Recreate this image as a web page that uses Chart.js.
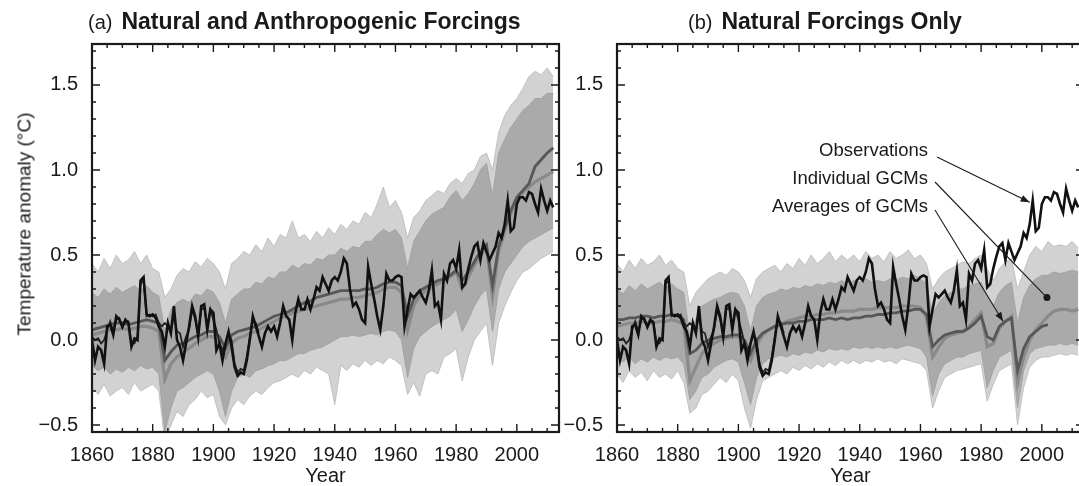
<!DOCTYPE html>
<html>
<head>
<meta charset="utf-8">
<script src="https://cdn.jsdelivr.net/npm/chart.js@4.4.0/dist/chart.umd.min.js"></script>
<style>
  html, body { margin: 0; padding: 0; background: #fff; width: 1079px; height: 486px; overflow: hidden; position: relative; }
  canvas { position: absolute; top: 0; }
  #leftChart { left: 0; }
  #rightChart { left: 525px; }
  .txt { position: absolute; font-family: "Liberation Sans", Arial, sans-serif; color: #1a1a1a; white-space: nowrap; }
  .title { top: 10px; font-size: 20px; line-height: 22px; }
  .title b { font-size: 23px; margin-left: 9px; }
  .note { font-size: 18.5px; line-height: 18px; right: 151px; }
  .ytitle { left: 24px; top: 224px; font-size: 19px; line-height: 19px; transform: translate(-50%, -50%) rotate(-90deg); }
</style>
</head>
<body>
<canvas id="leftChart" width="600" height="486"></canvas>
<canvas id="rightChart" width="580" height="486"></canvas>

<div class="txt title" style="left:88px">(a)<b>Natural and Anthropogenic Forcings</b></div>
<div class="txt title" style="left:688px">(b)<b>Natural Forcings Only</b></div>
<div class="txt ytitle">Temperature anomaly (°C)</div>
<div class="txt note" style="top:141px">Observations</div>
<div class="txt note" style="top:169px">Individual GCMs</div>
<div class="txt note" style="top:197px">Averages of GCMs</div>

<script>
// ---- axis ticks ----
const xTicks = [1860, 1880, 1900, 1920, 1940, 1960, 1980, 2000];
const yTicks = [-0.5, 0, 0.5, 1.0, 1.5];
const yTickLabels = ['\u22120.5', '0.0', '0.5', '1.0', '1.5'];

// ---- observations, annual from 1860 ----
const obsStart = 1860;
const obs = [
  0.00, -0.12, -0.04, -0.06, -0.14, 0.08, 0.09, 0.03, 0.14, 0.12,
  0.08, 0.12, 0.10, -0.04, 0.01, 0.00, 0.35, 0.37, 0.15, 0.14,
  0.15, 0.13, 0.08, 0.05, -0.04, 0.10, 0.04, 0.20, 0.00, -0.04,
  -0.12, -0.02, 0.08, 0.20, 0.14, 0.02, 0.20, 0.21, 0.06, 0.18,
  0.16, -0.06, -0.02, -0.12, -0.02, 0.05, -0.04, -0.16, -0.21, -0.19,
  -0.20, -0.12, 0.00, 0.14, 0.08, 0.02, -0.04, 0.04, 0.08, 0.05,
  0.08, 0.02, 0.10, 0.20, 0.14, 0.12, 0.00, 0.16, 0.24, 0.18,
  0.18, 0.24, 0.18, 0.24, 0.31, 0.29, 0.37, 0.33, 0.29, 0.35,
  0.37, 0.35, 0.40, 0.48, 0.45, 0.30, 0.20, 0.22, 0.18, 0.12,
  0.10, 0.43, 0.33, 0.24, 0.14, 0.06, 0.20, 0.39, 0.35, 0.35,
  0.37, 0.38, 0.37, 0.08, 0.18, 0.27, 0.25, 0.27, 0.29, 0.25,
  0.22, 0.29, 0.41, 0.20, 0.22, 0.12, 0.39, 0.35, 0.45, 0.47,
  0.42, 0.53, 0.31, 0.33, 0.42, 0.49, 0.55, 0.57, 0.47, 0.57,
  0.52, 0.47, 0.51, 0.55, 0.63, 0.60, 0.68, 0.82, 0.64, 0.66,
  0.80, 0.84, 0.84, 0.82, 0.87, 0.86, 0.80, 0.75, 0.89, 0.82,
  0.76, 0.82, 0.78
];
// second observational record where it departs from the first (1860-1915)
const obsB = [
  0.02, 0.00, 0.01, -0.02, 0.00, 0.06, 0.11, 0.05, 0.12, 0.13,
  0.07, 0.11, 0.11, -0.02, -0.02, 0.02, 0.33, 0.35, 0.14, 0.15,
  0.14, 0.15, 0.10, 0.08, 0.10, 0.08, 0.06, 0.14, 0.05, 0.04,
  -0.04, 0.02, 0.06, 0.18, 0.12, 0.04, 0.18, 0.19, 0.08, 0.18,
  0.12, 0.06, -0.02, -0.06, -0.02, 0.03, 0.00, -0.14, -0.19, -0.17,
  -0.18, -0.10, 0.02, 0.12, 0.10, 0.04
];

// ---- model ensembles, every 2 years from 1860 ----
const bandStart = 1860;
const bandStep = 2;

// (a) natural + anthropogenic
const aOutHi = [
  0.45, 0.40, 0.48, 0.42, 0.50, 0.45, 0.47, 0.52, 0.45, 0.50,
  0.42, 0.40, 0.25, 0.30, 0.38, 0.42, 0.40, 0.46, 0.43, 0.48,
  0.45, 0.40, 0.30, 0.45, 0.48, 0.52, 0.50, 0.56, 0.52, 0.60,
  0.55, 0.62, 0.60, 0.70, 0.60, 0.62, 0.58, 0.64, 0.60, 0.66,
  0.62, 0.68, 0.65, 0.70, 0.68, 0.75, 0.72, 0.80, 0.90, 0.78,
  0.82, 0.75, 0.60, 0.72, 0.76, 0.82, 0.85, 0.88, 0.86, 0.92,
  0.95, 0.92, 0.98, 1.00, 1.08, 1.10, 1.00, 1.22, 1.32, 1.38,
  1.42, 1.48, 1.55, 1.58, 1.56, 1.60, 1.55
];
const aInHi = [
  0.28, 0.25, 0.30, 0.27, 0.31, 0.28, 0.30, 0.32, 0.29, 0.32,
  0.28, 0.26, 0.05, 0.18, 0.22, 0.24, 0.22, 0.27, 0.26, 0.30,
  0.28, 0.22, 0.10, 0.24, 0.27, 0.30, 0.30, 0.34, 0.33, 0.37,
  0.36, 0.40, 0.40, 0.44, 0.42, 0.45, 0.44, 0.48, 0.47, 0.50,
  0.50, 0.54, 0.52, 0.55, 0.54, 0.58, 0.58, 0.62, 0.65, 0.63,
  0.65, 0.60, 0.42, 0.58, 0.64, 0.70, 0.74, 0.76, 0.78, 0.84,
  0.88, 0.82, 0.86, 0.92, 1.00, 1.04, 0.85, 1.10, 1.18, 1.25,
  1.30, 1.35, 1.38, 1.42, 1.42, 1.45, 1.45
];
const aInLo = [
  -0.15, -0.18, -0.16, -0.20, -0.17, -0.19, -0.16, -0.18, -0.15, -0.17,
  -0.16, -0.20, -0.54, -0.40, -0.30, -0.28, -0.25, -0.22, -0.20, -0.18,
  -0.20, -0.30, -0.45, -0.30, -0.22, -0.20, -0.22, -0.18, -0.17, -0.15,
  -0.14, -0.12, -0.12, -0.10, -0.08, -0.08, -0.06, -0.05, -0.04, -0.02,
  0.00, 0.02, 0.02, 0.03, 0.02, 0.03, 0.04, 0.03, 0.05, 0.06,
  0.05, 0.00, -0.22, -0.05, 0.02, 0.05, 0.08, 0.10, 0.12, 0.14,
  0.18, 0.05, 0.12, 0.20, 0.26, 0.30, 0.05, 0.30, 0.40, 0.45,
  0.50, 0.55, 0.58, 0.60, 0.62, 0.64, 0.66
];
const aOutLo = [
  -0.28, -0.32, -0.26, -0.33, -0.30, -0.28, -0.32, -0.25, -0.30, -0.28,
  -0.26, -0.30, -0.60, -0.50, -0.42, -0.45, -0.38, -0.35, -0.30, -0.34,
  -0.32, -0.45, -0.50, -0.40, -0.35, -0.38, -0.33, -0.30, -0.32, -0.28,
  -0.25, -0.24, -0.22, -0.20, -0.22, -0.18, -0.20, -0.16, -0.18, -0.20,
  -0.38, -0.15, -0.18, -0.14, -0.16, -0.12, -0.15, -0.12, -0.14, -0.10,
  -0.12, -0.15, -0.32, -0.25, -0.33, -0.20, -0.18, -0.20, -0.10, -0.08,
  -0.05, -0.24, -0.10, 0.00, 0.05, 0.10, -0.15, 0.10, 0.20, 0.28,
  0.35, 0.40, 0.42, 0.45, 0.48, 0.50, 0.52
];
const aAvgA = [
  0.06, 0.07, 0.08, 0.09, 0.10, 0.10, 0.09, 0.10, 0.11, 0.12,
  0.11, 0.10, -0.12, -0.07, -0.03, -0.02, 0.00, 0.02, 0.03, 0.05,
  0.05, 0.02, -0.05, 0.03, 0.05, 0.06, 0.07, 0.08, 0.10, 0.12,
  0.14, 0.15, 0.16, 0.18, 0.20, 0.22, 0.23, 0.25, 0.26, 0.27,
  0.28, 0.29, 0.29, 0.29, 0.29, 0.30, 0.30, 0.31, 0.33, 0.34,
  0.34, 0.32, 0.14, 0.24, 0.29, 0.31, 0.33, 0.35, 0.36, 0.38,
  0.41, 0.35, 0.40, 0.46, 0.52, 0.56, 0.32, 0.55, 0.66, 0.76,
  0.84, 0.88, 0.92, 1.02, 1.06, 1.10, 1.13
];
const aAvgB = [
  0.03, 0.04, 0.05, 0.06, 0.06, 0.07, 0.06, 0.07, 0.08, 0.08,
  0.07, 0.05, -0.23, -0.14, -0.10, -0.07, -0.05, -0.02, 0.00, 0.02,
  0.02, -0.02, -0.10, -0.02, 0.01, 0.02, 0.04, 0.05, 0.07, 0.09,
  0.11, 0.13, 0.14, 0.16, 0.17, 0.18, 0.19, 0.20, 0.21, 0.22,
  0.23, 0.24, 0.24, 0.25, 0.25, 0.26, 0.27, 0.28, 0.30, 0.31,
  0.31, 0.28, 0.06, 0.20, 0.26, 0.29, 0.31, 0.33, 0.35, 0.37,
  0.40, 0.30, 0.37, 0.44, 0.50, 0.54, 0.26, 0.52, 0.64, 0.74,
  0.82, 0.87, 0.90, 0.93, 0.95, 0.97, 0.99
];

// (b) natural only
const bOutHi = [
  0.45, 0.40, 0.47, 0.42, 0.48, 0.44, 0.46, 0.50, 0.44, 0.47,
  0.42, 0.40, 0.20, 0.28, 0.32, 0.36, 0.38, 0.40, 0.38, 0.42,
  0.40, 0.35, 0.25, 0.36, 0.40, 0.42, 0.44, 0.40, 0.45, 0.42,
  0.48, 0.44, 0.50, 0.45, 0.48, 0.52, 0.46, 0.50, 0.47, 0.50,
  0.46, 0.52, 0.48, 0.50, 0.46, 0.52, 0.48, 0.50, 0.53, 0.48,
  0.50, 0.45, 0.30, 0.36, 0.40, 0.42, 0.44, 0.46, 0.45, 0.48,
  0.50, 0.42, 0.35, 0.42, 0.46, 0.48, 0.30, 0.40, 0.50, 0.55,
  0.52, 0.58, 0.55, 0.56, 0.55, 0.58, 0.54
];
const bInHi = [
  0.30, 0.27, 0.32, 0.29, 0.33, 0.30, 0.32, 0.34, 0.31, 0.33,
  0.30, 0.28, 0.02, 0.12, 0.20, 0.22, 0.24, 0.25, 0.27, 0.28,
  0.27, 0.20, 0.05, 0.20, 0.25, 0.27, 0.28, 0.30, 0.29, 0.31,
  0.30, 0.32, 0.31, 0.33, 0.32, 0.34, 0.33, 0.35, 0.33, 0.35,
  0.34, 0.36, 0.34, 0.35, 0.34, 0.36, 0.35, 0.37, 0.36, 0.38,
  0.36, 0.33, 0.15, 0.22, 0.26, 0.28, 0.30, 0.30, 0.32, 0.33,
  0.34, 0.25, 0.20, 0.28, 0.32, 0.34, 0.10, 0.25, 0.32, 0.36,
  0.38, 0.38, 0.40, 0.39, 0.40, 0.41, 0.40
];
const bInLo = [
  -0.10, -0.13, -0.10, -0.14, -0.11, -0.13, -0.10, -0.12, -0.10, -0.11,
  -0.10, -0.14, -0.35, -0.30, -0.22, -0.20, -0.16, -0.14, -0.12, -0.11,
  -0.13, -0.25, -0.38, -0.22, -0.14, -0.11, -0.10, -0.09, -0.10, -0.08,
  -0.09, -0.07, -0.08, -0.06, -0.07, -0.05, -0.06, -0.05, -0.06, -0.04,
  -0.05, -0.04, -0.05, -0.04, -0.05, -0.04, -0.05, -0.04, -0.03, -0.04,
  -0.05, -0.10, -0.33, -0.20, -0.14, -0.12, -0.10, -0.10, -0.08, -0.07,
  -0.06, -0.28, -0.18, -0.10, -0.08, -0.06, -0.40, -0.18, -0.08, -0.05,
  -0.04, -0.03, -0.03, -0.02, -0.03, -0.02, -0.03
];
const bOutLo = [
  -0.20, -0.25, -0.18, -0.22, -0.19, -0.24, -0.18, -0.22, -0.20, -0.23,
  -0.18, -0.25, -0.43, -0.40, -0.32, -0.30, -0.26, -0.22, -0.25, -0.20,
  -0.24, -0.40, -0.52, -0.35, -0.24, -0.22, -0.20, -0.18, -0.20, -0.16,
  -0.18, -0.15, -0.17, -0.14, -0.16, -0.13, -0.15, -0.12, -0.14, -0.12,
  -0.14, -0.12, -0.13, -0.11, -0.13, -0.12, -0.14, -0.11, -0.12, -0.13,
  -0.14, -0.18, -0.40, -0.30, -0.22, -0.20, -0.18, -0.17, -0.16, -0.15,
  -0.14, -0.36, -0.26, -0.18, -0.16, -0.14, -0.50, -0.28, -0.16, -0.12,
  -0.10, -0.10, -0.09, -0.08, -0.09, -0.08, -0.09
];
const bAvgA = [
  0.12, 0.12, 0.13, 0.13, 0.14, 0.14, 0.13, 0.14, 0.14, 0.15,
  0.14, 0.12, -0.08, -0.06, -0.02, 0.00, 0.01, 0.02, 0.02, 0.03,
  0.03, 0.00, -0.08, 0.00, 0.04, 0.06, 0.08, 0.09, 0.10, 0.10,
  0.11, 0.11, 0.12, 0.12, 0.12, 0.13, 0.12, 0.13, 0.12, 0.13,
  0.13, 0.14, 0.14, 0.15, 0.15, 0.16, 0.16, 0.17, 0.17, 0.18,
  0.18, 0.15, -0.04, 0.00, 0.03, 0.04, 0.05, 0.05, 0.07, 0.10,
  0.14, 0.02, 0.00, 0.08, 0.11, 0.13, -0.18, -0.05, 0.02, 0.05,
  0.08, 0.09
];
const bAvgB = [
  0.08, 0.09, 0.10, 0.10, 0.11, 0.10, 0.10, 0.11, 0.11, 0.12,
  0.11, 0.09, -0.24, -0.16, -0.08, -0.04, -0.02, 0.00, 0.01, 0.02,
  0.02, -0.03, -0.12, -0.03, 0.03, 0.06, 0.08, 0.09, 0.11, 0.12,
  0.13, 0.14, 0.14, 0.15, 0.15, 0.16, 0.16, 0.17, 0.17, 0.17,
  0.18, 0.18, 0.18, 0.19, 0.19, 0.19, 0.19, 0.20, 0.20, 0.20,
  0.19, 0.14, -0.10, -0.04, 0.01, 0.03, 0.04, 0.05, 0.08, 0.12,
  0.16, -0.04, -0.02, 0.07, 0.11, 0.14, -0.25, -0.10, 0.00, 0.06,
  0.10, 0.14, 0.17, 0.18, 0.18, 0.17, 0.18
];

// callout targets in panel (b): [year, value]
const noteObs = [1996, 0.81];
const noteGcm = [2001.7, 0.25];
const noteAvg = [1987.2, 0.11];

const FONT = '"Liberation Sans", Arial, sans-serif';
const INK = '#1a1a1a';

const toPts = (start, step, vals) => vals.map((v, i) => ({ x: start + i * step, y: v }));

function lineSet(data, color, width) {
  return { data, borderColor: color, borderWidth: width, pointRadius: 0, fill: false, tension: 0 };
}
function bandSet(data, stroke, width, fill, bg) {
  return { data, borderColor: stroke, borderWidth: width, backgroundColor: bg || 'transparent', pointRadius: 0, fill, tension: 0 };
}

function panelDatasets(p) {
  // index 0 is painted last (on top)
  return [
    lineSet(toPts(obsStart, 1, obs), '#111111', 2.6),
    lineSet(toPts(obsStart, 1, obsB), '#222222', 1.8),
    lineSet(toPts(bandStart, bandStep, p.avgA), '#575757', 2.8),
    lineSet(toPts(bandStart, bandStep, p.avgB), '#8a8a8a', 3.2),
    bandSet(toPts(bandStart, bandStep, p.inLo), '#a3a3a3', 1, false),
    bandSet(toPts(bandStart, bandStep, p.inHi), '#a3a3a3', 1, '-1', '#aaaaaa'),
    bandSet(toPts(bandStart, bandStep, p.outLo), '#b8b8b8', 0.8, false),
    bandSet(toPts(bandStart, bandStep, p.outHi), '#b8b8b8', 0.8, '-1', '#d2d2d2')
  ];
}

// frame with inward ticks on all four sides
const frameTicks = {
  id: 'frameTicks',
  afterDatasetsDraw(chart) {
    const { ctx, chartArea: a, scales: { x, y } } = chart;
    ctx.save();
    ctx.strokeStyle = INK;
    ctx.lineWidth = 1.4;
    ctx.beginPath();
    for (let yr = 1860; yr <= x.max; yr += 5) {
      const px = x.getPixelForValue(yr);
      const len = (yr - 1860) % 20 === 0 ? 8 : 4;
      ctx.moveTo(px, a.bottom); ctx.lineTo(px, a.bottom - len);
      ctx.moveTo(px, a.top); ctx.lineTo(px, a.top + len);
    }
    for (let k = -5; k <= 17; k++) {
      const py = y.getPixelForValue(k / 10);
      const len = k % 5 === 0 ? 8 : 4;
      ctx.moveTo(a.left, py); ctx.lineTo(a.left + len, py);
      ctx.moveTo(a.right, py); ctx.lineTo(a.right - len, py);
    }
    ctx.stroke();
    ctx.lineWidth = 2.2;
    ctx.strokeRect(a.left, a.top, a.right - a.left, a.bottom - a.top);
    ctx.restore();
  }
};

// leader lines from the labels in panel (b)
const callouts = {
  id: 'callouts',
  afterDraw(chart) {
    const { ctx, scales: { x, y } } = chart;
    const offset = 525;
    const items = [
      { from: [937, 157], to: noteObs, head: 'arrow' },
      { from: [935, 182], to: noteGcm, head: 'dot' },
      { from: [935, 210], to: noteAvg, head: 'arrow' }
    ];
    ctx.save();
    ctx.strokeStyle = INK;
    ctx.fillStyle = INK;
    ctx.lineWidth = 1.1;
    items.forEach(it => {
      const x0 = it.from[0] - offset, y0 = it.from[1];
      const x1 = x.getPixelForValue(it.to[0]), y1 = y.getPixelForValue(it.to[1]);
      ctx.beginPath();
      ctx.moveTo(x0, y0);
      ctx.lineTo(x1, y1);
      ctx.stroke();
      if (it.head === 'dot') {
        ctx.beginPath();
        ctx.arc(x1, y1, 3.5, 0, Math.PI * 2);
        ctx.fill();
      } else {
        const ang = Math.atan2(y1 - y0, x1 - x0);
        const L = 9, W = 3.5;
        ctx.beginPath();
        ctx.moveTo(x1, y1);
        ctx.lineTo(x1 - L * Math.cos(ang) + W * Math.sin(ang), y1 - L * Math.sin(ang) - W * Math.cos(ang));
        ctx.lineTo(x1 - L * Math.cos(ang) - W * Math.sin(ang), y1 - L * Math.sin(ang) + W * Math.cos(ang));
        ctx.closePath();
        ctx.fill();
      }
    });
    ctx.restore();
  }
};

function makePanel(canvasId, p, padRight, extraPlugins) {
  return new Chart(document.getElementById(canvasId), {
    type: 'line',
    data: { datasets: panelDatasets(p) },
    options: {
      responsive: false,
      animation: false,
      devicePixelRatio: 1,
      events: [],
      layout: { padding: { left: 0, top: 44, right: padRight, bottom: 0 } },
      plugins: { legend: { display: false }, tooltip: { enabled: false }, title: { display: false } },
      scales: {
        x: {
          type: 'linear',
          min: 1860,
          max: 2013.9,
          grid: { display: false },
          border: { display: false },
          afterBuildTicks: s => { s.ticks = xTicks.map(v => ({ value: v })); },
          afterFit: s => { s.height = 54; },
          ticks: {
            autoSkip: false, maxRotation: 0, padding: 3, color: INK,
            font: { family: FONT, size: 20 },
            callback: v => String(v)
          },
          title: {
            display: true, text: 'Year', color: INK,
            font: { family: FONT, size: 20, lineHeight: 1.0 },
            padding: { top: 0, bottom: 0 }
          }
        },
        y: {
          min: -0.541,
          max: 1.741,
          grid: { display: false },
          border: { display: false },
          afterBuildTicks: s => { s.ticks = yTicks.map(v => ({ value: v })); },
          afterFit: s => { s.width = 92; },
          ticks: {
            padding: 6, color: INK,
            font: { family: FONT, size: 20 },
            callback: v => yTickLabels[yTicks.indexOf(v)]
          }
        }
      }
    },
    plugins: [frameTicks].concat(extraPlugins)
  });
}

makePanel('leftChart', { outHi: aOutHi, inHi: aInHi, inLo: aInLo, outLo: aOutLo, avgA: aAvgA, avgB: aAvgB }, 41, []);
makePanel('rightChart', { outHi: bOutHi, inHi: bInHi, inLo: bInLo, outLo: bOutLo, avgA: bAvgA, avgB: bAvgB }, 21, [callouts]);
</script>
</body>
</html>
